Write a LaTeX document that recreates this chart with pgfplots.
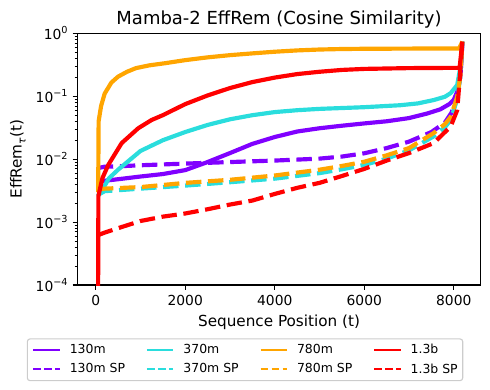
\documentclass[border=0pt]{standalone}
\usepackage{fontspec}
\setmainfont{DejaVu Sans}
\usepackage{pgfplots}
\pgfplotsset{compat=1.18}
\definecolor{cA}{HTML}{8000FF}
\definecolor{cB}{HTML}{2ADDDD}
\definecolor{cC}{HTML}{FFA500}
\definecolor{cD}{HTML}{FF0000}
\newcommand\pw[1]{10\raisebox{0.42em}{\fontsize{7}{7}\selectfont #1}}

\begin{document}
\begin{tikzpicture}
\useasboundingbox (-55.7bp,-75.6bp) rectangle (297.1bp,205.2bp);
\begin{axis}[
  scale only axis, width=290.4bp, height=181.2bp,
  ymode=log, xmin=-410, xmax=8601, ymin=1e-4, ymax=1,
  xtick={0,2000,4000,6000,8000},
  ytick={1e-4,1e-3,1e-2,1e-1,1},
  yticklabels={\pw{−4},\pw{−3},\pw{−2},\pw{−1},\pw{0}},
  /pgf/number format/assume math mode=true,
  /pgf/number format/1000 sep={},
  tick label style={font=\fontsize{10}{12}\selectfont},
  tick pos=left, tick align=outside,
  major tick length=3.5bp, minor tick length=2bp,
  every tick/.style={black, line width=0.8bp},
  every minor tick/.style={black, line width=0.6bp},
  axis line style={line width=0.8bp},
  every axis title shift=0pt,
  title={Mamba-2 EffRem (Cosine Similarity)},
  title style={font=\fontsize{13}{15}\selectfont, at={(axis description cs:0.5,1.037)}, anchor=base},
  xlabel={Sequence Position (t)},
  xlabel style={font=\fontsize{11}{13}\selectfont, at={(axis description cs:0.5,-0.1656)}, anchor=base},
  ylabel={EffRem\raisebox{-0.25em}{\fontsize{7.7}{8}\selectfont\itshape τ}(t)},
  ylabel style={font=\fontsize{11}{13}\selectfont, at={(axis description cs:-0.138,0.5)}, anchor=base},
  legend columns=4,
  legend cell align=left,
  legend image code/.code={\draw[mark repeat=2,mark phase=2] plot coordinates {(0bp,0bp) (9.5bp,0bp) (19bp,0bp)};},
  legend style={at={(axis description cs:0.4157,-0.2119)}, anchor=north,
    font=\fontsize{9}{11}\selectfont, draw=black!20, rounded corners=2bp, line width=0.8bp,
    inner xsep=3.6bp, inner ysep=2bp, row sep=1.5bp,
    nodes={inner xsep=0bp},
    /tikz/every odd column/.append style={column sep=6.5bp},
    /tikz/every even column/.append style={column sep=15bp}},
  every axis plot/.append style={line width=3bp, line join=round},
]
\addplot[cA, forget plot] coordinates {
(50,0.0042) (150,0.0045) (500,0.0048) (1000,0.0053) (1500,0.0058) (2000,0.0067)
(2500,0.0090) (3000,0.0125) (3500,0.0175) (4000,0.0225) (4500,0.0275) (5000,0.031)
(5500,0.034) (6000,0.037) (6500,0.040) (7000,0.045) (7400,0.053) (7700,0.062)
(7900,0.075) (8000,0.088) (8076,0.118) (8130,0.17) (8170,0.35) (8191,0.74)};
\addplot[cA, dash pattern=on 11.1bp off 4.8bp, forget plot] coordinates {
(50,0.0072) (200,0.0076) (500,0.0077) (1000,0.0080) (2000,0.0085) (3000,0.0090)
(4000,0.0095) (5000,0.0102) (5500,0.011) (6000,0.0124) (6500,0.0150) (7000,0.0190)
(7500,0.027) (7800,0.038) (7950,0.055) (8076,0.098) (8150,0.22) (8191,0.74)};
\addplot[cB, forget plot] coordinates {
(50,0.0026) (150,0.0033) (300,0.0050) (500,0.0068) (1000,0.0135) (1500,0.020)
(2000,0.027) (2500,0.035) (3000,0.043) (3500,0.050) (4000,0.056) (4500,0.060)
(5000,0.063) (6000,0.067) (6800,0.072) (7200,0.077) (7550,0.087) (7800,0.098)
(7930,0.112) (8076,0.151) (8150,0.30) (8191,0.74)};
\addplot[cB, dash pattern=on 11.1bp off 4.8bp, forget plot] coordinates {
(50,0.0027) (200,0.0031) (1000,0.0034) (2000,0.0038) (3000,0.0043) (4000,0.0049)
(5000,0.0060) (5500,0.0069) (6000,0.0081) (6500,0.0102) (7000,0.0138) (7550,0.023)
(7800,0.032) (7930,0.042) (8076,0.090) (8150,0.22) (8191,0.74)};
\addplot[cC, forget plot] coordinates {
(55,0.0030) (65,0.040) (120,0.070) (200,0.11) (350,0.165) (500,0.205) (700,0.245)
(900,0.28) (1200,0.31) (1550,0.335) (2000,0.375) (2500,0.415) (3000,0.45)
(3500,0.48) (4000,0.51) (4500,0.535) (5000,0.553) (5500,0.563) (6000,0.568)
(7000,0.572) (8120,0.575) (8191,0.74)};
\addplot[cC, dash pattern=on 11.1bp off 4.8bp, forget plot] coordinates {
(50,0.0033) (200,0.0034) (1000,0.0036) (2000,0.0042) (3000,0.0047) (4000,0.0055)
(5000,0.0068) (5500,0.0078) (6000,0.0091) (6500,0.0115) (7000,0.0150) (7550,0.026)
(7800,0.036) (7930,0.047) (8076,0.098) (8150,0.22) (8191,0.74)};
\addplot[cD, forget plot] coordinates {
(50,0.00001) (60,0.0026) (150,0.0050) (280,0.0081) (580,0.018) (950,0.031)
(1250,0.042) (1500,0.050) (2000,0.075) (2500,0.103) (3000,0.135) (3500,0.168)
(4000,0.198) (4500,0.225) (5000,0.245) (5500,0.262) (6000,0.272) (7000,0.280)
(8130,0.283) (8191,0.74)};
\addplot[cD, dash pattern=on 11.1bp off 4.8bp, forget plot] coordinates {
(50,0.00062) (200,0.00068) (500,0.0008) (1000,0.00104) (1500,0.00122) (2000,0.00137)
(2500,0.0016) (3000,0.0019) (3500,0.0022) (4000,0.0028) (4500,0.0035) (5000,0.0042)
(5500,0.0054) (6000,0.0070) (6500,0.0095) (7000,0.0125) (7550,0.018) (7930,0.033)
(8076,0.060) (8130,0.18) (8191,0.74)};
\addlegendimage{cA, line width=1.5bp}\addlegendentry{130m}
\addlegendimage{cB, line width=1.5bp}\addlegendentry{370m}
\addlegendimage{cC, line width=1.5bp}\addlegendentry{780m}
\addlegendimage{cD, line width=1.5bp}\addlegendentry{1.3b}
\addlegendimage{cA, line width=1.5bp, dash pattern=on 5.55bp off 2.4bp}\addlegendentry{130m SP}
\addlegendimage{cB, line width=1.5bp, dash pattern=on 5.55bp off 2.4bp}\addlegendentry{370m SP}
\addlegendimage{cC, line width=1.5bp, dash pattern=on 5.55bp off 2.4bp}\addlegendentry{780m SP}
\addlegendimage{cD, line width=1.5bp, dash pattern=on 5.55bp off 2.4bp}\addlegendentry{1.3b SP}
\end{axis}
\end{tikzpicture}
\end{document}
